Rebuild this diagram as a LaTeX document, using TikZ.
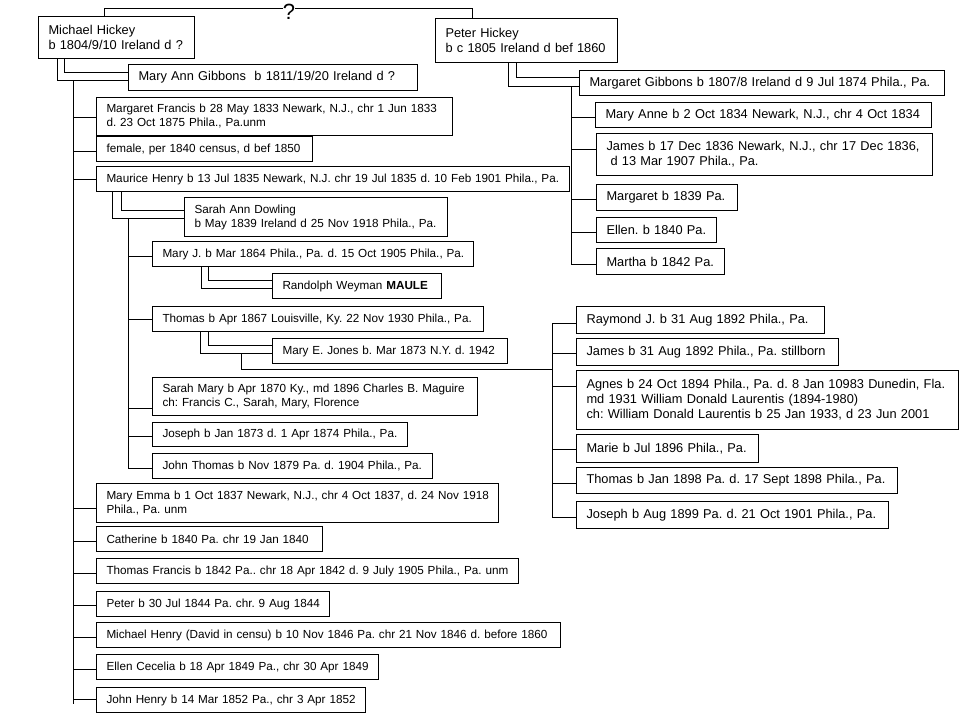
\documentclass[tikz,border=0pt]{standalone}
\usepackage{fontspec}
\setmainfont{Liberation Sans}
\newcommand\fbig{\fontsize{12.8}{15}\selectfont\frenchspacing}
\newcommand\fsmall{\fontsize{11.7}{14}\selectfont\frenchspacing}
\newcommand\lne[1]{\mbox{#1}}
\tikzset{
  pbox/.style={draw, line width=1pt, anchor=north west, inner xsep=10pt, inner ysep=1pt,
               align=left, font=\fsmall},
  big/.style={font=\fbig},
  link/.style={line width=1pt},
}
\begin{document}
\begin{tikzpicture}[x=1pt,y=-1pt]
\fill[white] (0,0) rectangle (960,720);
\useasboundingbox (0,0) rectangle (960,720);

% ---- top generation
\node[pbox,big,text width=136pt,minimum height=42pt] (mh) at (38,16) {\lne{Michael Hickey}\\\lne{b 1804/9/10 Ireland d ?}};
\node[pbox,big,text width=162pt,minimum height=44pt] (ph) at (435,18) {\lne{Peter Hickey}\\\lne{b c 1805 Ireland d bef 1860}};
\node[font=\fontsize{22}{22}\selectfont, inner sep=0pt] (q) at (289,12) {?};
\coordinate (qy) at (0,8);
\draw[link] ([xshift=66pt]mh.north west) |- (q.west |- qy);
\draw[link] (q.east |- qy) -| ([xshift=37pt]ph.north west);

% ---- spouses
\node[pbox,big,text width=269pt,minimum height=26pt] (mag) at (128,64) {\lne{Mary Ann Gibbons\ \ b 1811/19/20 Ireland d ?}};
\node[pbox,big,text width=345pt,minimum height=25pt] (mgg) at (579,70) {\lne{Margaret Gibbons b 1807/8 Ireland d 9 Jul 1874 Phila., Pa.}};
\draw[link] ([xshift=19pt]mh.south west) |- (mag.west |- 0,80);
\draw[link] ([xshift=26pt]mh.south west) |- (mag.west |- 0,72);
\draw[link] ([xshift=73pt]ph.south west) |- (mgg.west |- 0,86);
\draw[link] ([xshift=81pt]ph.south west) |- (mgg.west |- 0,77);

% ---- Peter's children
\node[pbox,big,text width=316pt,minimum height=25pt] (pc1) at (595,102) {\lne{Mary Anne b 2 Oct 1834 Newark, N.J., chr 4 Oct 1834}};
\node[pbox,big,text width=316pt,minimum height=42pt] (pc2) at (596,133) {\lne{James b 17 Dec 1836 Newark, N.J., chr 17 Dec 1836,}\\\lne{\hspace*{4pt}d 13 Mar 1907 Phila., Pa.}};
\node[pbox,big,text width=121pt,minimum height=26pt] (pc3) at (596,184) {\lne{Margaret b 1839 Pa.}};
\node[pbox,big,text width=100pt,minimum height=25pt] (pc4) at (596,217) {\lne{Ellen. b 1840 Pa.}};
\node[pbox,big,text width=108pt,minimum height=26pt] (pc5) at (596,248) {\lne{Martha b 1842 Pa.}};
\coordinate (tB) at (571,86);
\coordinate (tBe) at (571,264);
\draw[link] (tB) -- (tBe);
\foreach \n/\y in {pc1/117, pc2/149, pc3/199, pc4/232, pc5/264}
  \draw[link] (tB |- 0,\y) -- (\n.west |- 0,\y);

% ---- Michael's children
\node[pbox,text width=336pt,minimum height=38pt] (c1) at (96,97) {\lne{Margaret Francis b 28 May 1833 Newark, N.J., chr 1 Jun 1833}\\\lne{d. 23 Oct 1875 Phila., Pa.unm}};
\node[pbox,text width=196pt,minimum height=25pt] (c2) at (96,136) {\lne{female, per 1840 census, d bef 1850}};
\node[pbox,text width=453pt,minimum height=25pt] (c3) at (96,166) {\lne{Maurice Henry b 13 Jul 1835 Newark, N.J. chr 19 Jul 1835 d. 10 Feb 1901 Phila., Pa.}};
\node[pbox,text width=382pt,minimum height=39pt] (c4) at (96,483) {\lne{Mary Emma b 1 Oct 1837 Newark, N.J., chr 4 Oct 1837, d. 24 Nov 1918}\\\lne{Phila., Pa. unm}};
\node[pbox,text width=206pt,minimum height=25pt] (c5) at (96,526) {\lne{Catherine b 1840 Pa. chr 19 Jan 1840}};
\node[pbox,text width=402pt,minimum height=25pt] (c6) at (96,558) {\lne{Thomas Francis b 1842 Pa.. chr 18 Apr 1842 d. 9 July 1905 Phila., Pa. unm}};
\node[pbox,text width=213pt,minimum height=25pt] (c7) at (96,591) {\lne{Peter b 30 Jul 1844 Pa. chr. 9 Aug 1844}};
\node[pbox,text width=444pt,minimum height=25pt] (c8) at (96,622) {\lne{Michael Henry (David in censu) b 10 Nov 1846 Pa. chr 21 Nov 1846 d. before 1860}};
\node[pbox,text width=262pt,minimum height=25pt] (c9) at (96,654) {\lne{Ellen Cecelia b 18 Apr 1849 Pa., chr 30 Apr 1849}};
\node[pbox,text width=249pt,minimum height=25pt] (c10) at (96,687) {\lne{John Henry b 14 Mar 1852 Pa., chr 3 Apr 1852}};
\coordinate (tA) at (73,80);
\coordinate (tAe) at (73,704);
\draw[link] (tA) -- (tAe);
\foreach \n/\y in {c1/117, c2/151, c3/179, c4/508, c5/541, c6/573, c7/605, c8/637, c9/669, c10/699}
  \draw[link] (tA |- 0,\y) -- (\n.west |- 0,\y);

% ---- Maurice's family
\node[pbox,text width=243pt,minimum height=39pt] (sad) at (184,197) {\lne{Sarah Ann Dowling}\\\lne{b May 1839 Ireland d 25 Nov 1918 Phila., Pa.}};
\draw[link] ([xshift=16pt]c3.south west) |- (sad.west |- 0,218);
\draw[link] ([xshift=25pt]c3.south west) |- (sad.west |- 0,210);
\node[pbox,text width=301pt,minimum height=25pt] (mj) at (152,241) {\lne{Mary J. b Mar 1864 Phila., Pa. d. 15 Oct 1905 Phila., Pa.}};
\node[pbox,text width=311pt,minimum height=25pt] (th) at (152,306) {\lne{Thomas b Apr 1867 Louisville, Ky. 22 Nov 1930 Phila., Pa.}};
\node[pbox,text width=305pt,minimum height=38pt] (sm) at (152,377) {\lne{Sarah Mary b Apr 1870 Ky., md 1896 Charles B. Maguire}\\\lne{ch: Francis C., Sarah, Mary, Florence}};
\node[pbox,text width=235pt,minimum height=24pt] (jo) at (152,422) {\lne{Joseph b Jan 1873 d. 1 Apr 1874 Phila., Pa.}};
\node[pbox,text width=260pt,minimum height=25pt] (jt) at (152,453) {\lne{John Thomas b Nov 1879 Pa. d. 1904 Phila., Pa.}};
\coordinate (tC) at (128,218);
\coordinate (tCe) at (128,468);
\draw[link] (tC) -- (tCe);
\foreach \n/\y in {mj/256, th/319, sm/408, jo/436, jt/468}
  \draw[link] (tC |- 0,\y) -- (\n.west |- 0,\y);

% ---- Mary J. and spouse
\node[pbox,text width=149pt,minimum height=25pt] (rwm) at (272,273) {\lne{Randolph Weyman \textbf{MAULE}}};
\draw[link] ([xshift=49pt]mj.south west) |- (rwm.west |- 0,288);
\draw[link] ([xshift=56pt]mj.south west) |- (rwm.west |- 0,280);

% ---- Thomas and spouse
\node[pbox,text width=215pt,minimum height=25pt] (mej) at (272,338) {\lne{Mary E. Jones b. Mar 1873 N.Y. d. 1942}};
\draw[link] ([xshift=48pt]th.south west) |- (mej.west |- 0,353);
\draw[link] ([xshift=56pt]th.south west) |- (mej.west |- 0,345);

% ---- Thomas's children
\node[pbox,big,text width=228pt,minimum height=27pt] (g1) at (576,306) {\lne{Raymond J. b 31 Aug 1892 Phila., Pa.}};
\node[pbox,big,text width=242pt,minimum height=27pt] (g2) at (576,338) {\lne{James b 31 Aug 1892 Phila., Pa. stillborn}};
\node[pbox,big,text width=362pt,minimum height=59pt] (g3) at (576,370) {\lne{Agnes b 24 Oct 1894 Phila., Pa. d. 8 Jan 10983 Dunedin, Fla.}\\\lne{md 1931 William Donald Laurentis (1894-1980)}\\\lne{ch: William Donald Laurentis b 25 Jan 1933, d 23 Jun 2001}};
\node[pbox,big,text width=162pt,minimum height=28pt] (g4) at (576,434) {\lne{Marie b Jul 1896 Phila., Pa.}};
\node[pbox,big,text width=301pt,minimum height=26pt] (g5) at (576,467) {\lne{Thomas b Jan 1898 Pa. d. 17 Sept 1898 Phila., Pa.}};
\node[pbox,big,text width=292pt,minimum height=27pt] (g6) at (576,501) {\lne{Joseph b Aug 1899 Pa. d. 21 Oct 1901 Phila., Pa.}};
\coordinate (tDs) at (241,353);
\coordinate (tD) at (552,323);
\coordinate (tDe) at (552,517);
\draw[link] (tDs) |- (tD |- 0,369);
\draw[link] (tD) -- (tDe);
\foreach \n/\y in {g1/323, g2/353, g3/386, g4/449, g5/483, g6/517}
  \draw[link] (tD |- 0,\y) -- (\n.west |- 0,\y);
\end{tikzpicture}
\end{document}
